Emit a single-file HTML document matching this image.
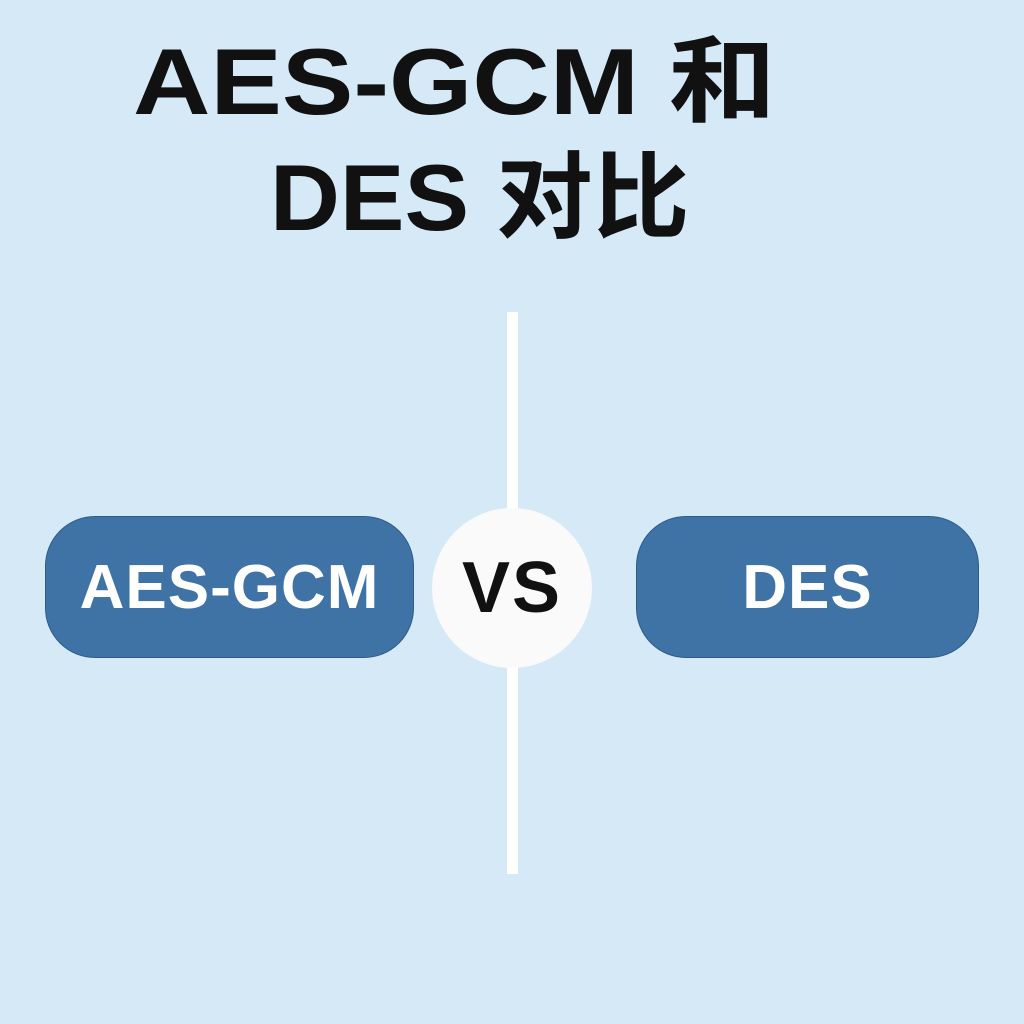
<!DOCTYPE html>
<html><head><meta charset="utf-8"><style>
html,body{margin:0;padding:0;}
body{width:1024px;height:1024px;background:#d6e9f7;position:relative;overflow:hidden;font-family:"Liberation Sans","Noto Sans CJK SC",sans-serif;}
.t{position:absolute;font-weight:bold;font-size:94px;color:#111;line-height:1;white-space:nowrap;transform-origin:0 0;}
.line{position:absolute;left:507px;top:312px;width:11px;height:562px;background:#fff;}
.pill{position:absolute;top:516px;height:142px;border-radius:50px;background:#3f72a5;border:1px solid #2e5d8c;color:#fff;font-weight:bold;font-size:62px;display:flex;align-items:center;justify-content:center;box-sizing:border-box;letter-spacing:1px;}
.vs{position:absolute;left:432px;top:508px;width:160px;height:160px;border-radius:50%;background:#fafafa;display:flex;align-items:center;justify-content:center;font-weight:bold;font-size:72px;color:#111;letter-spacing:2px;}
</style></head><body>
<div class="t" style="top:35px;left:133px;transform:scaleX(1.14);">AES-GCM 和</div>
<div class="t" style="top:151px;left:270px;transform:scaleX(1.03);">DES 对比</div>
<div class="line"></div>
<div class="pill" style="left:45px;width:369px;">AES-GCM</div>
<div class="pill" style="left:636px;width:343px;">DES</div>
<div class="vs">VS</div>
</body></html>
